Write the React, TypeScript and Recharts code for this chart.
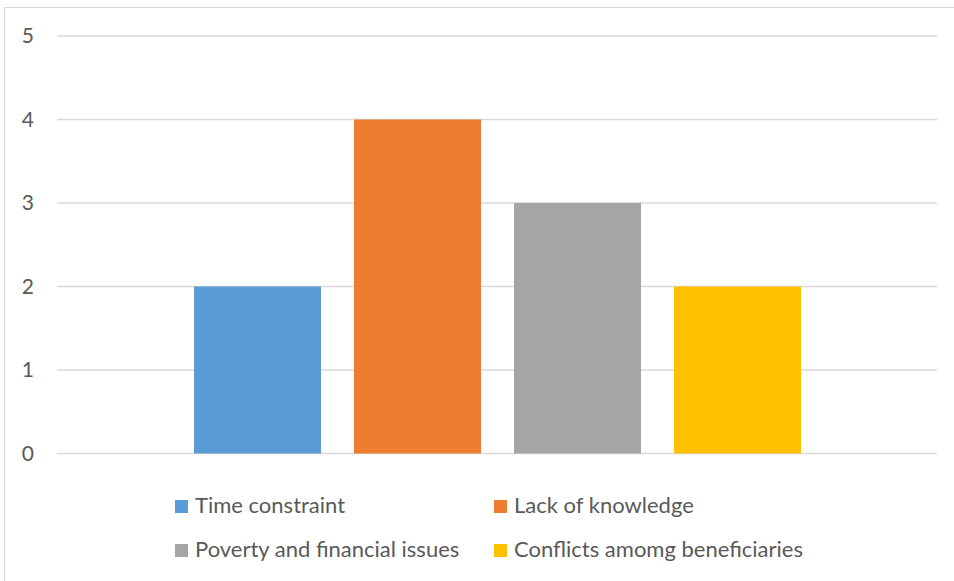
import React from "react";
import { BarChart, Bar, XAxis, YAxis, CartesianGrid, Legend } from "recharts";

const categories = ["Challenges"];
const seriesNames = [
  "Time constraint",
  "Lack of knowledge",
  "Poverty and financial issues",
  "Conflicts amomg beneficiaries",
];
const seriesValues = [2, 4, 3, 2];
const seriesColors = ["#5B9BD5", "#ED7D31", "#A5A5A5", "#FFC000"];
const yTicks = [0, 1, 2, 3, 4, 5];

const data = categories.map((c) => {
  const row: Record<string, string | number> = { category: c };
  seriesNames.forEach((n, i) => {
    row[n] = seriesValues[i];
  });
  return row;
});

const FONT = "Lato, 'Noto Sans', sans-serif";
const TEXT_COLOR = "#595959";

const renderLegend = () => {
  const colX = [175, 494];
  const rowY = [506, 550];
  return (
    <div style={{ position: "relative", width: 954, height: 0 }}>
      {seriesNames.map((name, i) => {
        const col = i % 2;
        const row = Math.floor(i / 2);
        return (
          <div
            key={name}
            style={{
              position: "absolute",
              left: colX[col],
              top: rowY[row] - 13,
              height: 26,
              display: "flex",
              alignItems: "center",
              whiteSpace: "nowrap",
              fontFamily: FONT,
              fontSize: 22,
              color: TEXT_COLOR,
            }}
          >
            <span
              style={{
                display: "inline-block",
                width: 13,
                height: 13,
                background: seriesColors[i],
                marginRight: 7,
              }}
            />
            <span style={{ position: "relative", top: -2 }}>{name}</span>
          </div>
        );
      })}
    </div>
  );
};

export default function App() {
  return (
    <div
      style={{
        position: "absolute",
        left: 0,
        top: 0,
        width: 954,
        height: 581,
        overflow: "hidden",
        background: "#fff",
      }}
    >
      <div
        style={{
          position: "absolute",
          left: 4,
          top: 7,
          width: 1200,
          height: 1200,
          border: "1.5px solid #d9d9d9",
        }}
      />
      <div style={{ position: "absolute", left: 0, top: 0 }}>
        <BarChart
          width={954}
          height={581}
          data={data}
          margin={{ top: 36, right: 17, left: 0, bottom: 127.5 }}
          barSize={127}
          barGap={33}
        >
          <CartesianGrid vertical={false} stroke="#d9d9d9" strokeWidth={1.3} />
          <XAxis dataKey="category" hide />
          <YAxis
            width={57}
            domain={[0, 5]}
            ticks={yTicks}
            axisLine={false}
            tickLine={false}
            tickSize={0}
            tickMargin={23}
            interval={0}
            tick={{ fill: TEXT_COLOR, fontSize: 21, fontFamily: FONT }}
          />
          <Legend
            content={renderLegend}
            wrapperStyle={{ top: 0, left: 0, bottom: "auto", width: 954, height: 0 }}
          />
          {seriesNames.map((n, i) => (
            <Bar key={n} dataKey={n} fill={seriesColors[i]} isAnimationActive={false} />
          ))}
        </BarChart>
      </div>
    </div>
  );
}
